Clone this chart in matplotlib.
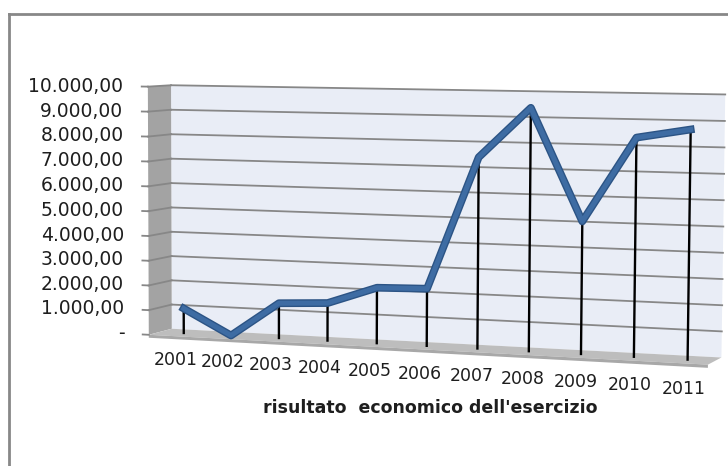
import numpy as np
import matplotlib
matplotlib.use('Agg')
import matplotlib.pyplot as plt
import matplotlib.patheffects as pe
from matplotlib.lines import Line2D
from mpl_toolkits.mplot3d import proj3d
from mpl_toolkits.mplot3d.art3d import Poly3DCollection

# dati
anni = ['2001', '2002', '2003', '2004', '2005', '2006',
        '2007', '2008', '2009', '2010', '2011']
risultato = [1000, 0, 1400, 1500, 2200, 2250, 7450, 9400, 5100, 8350, 8700]
zticks = [0, 1000, 2000, 3000, 4000, 5000, 6000, 7000, 8000, 9000, 10000]
zlabels = ['-', '1.000,00', '2.000,00', '3.000,00', '4.000,00', '5.000,00',
           '6.000,00', '7.000,00', '8.000,00', '9.000,00', '10.000,00']
titolo = "risultato  economico dell'esercizio"

W, H = 728, 466
fig = plt.figure(figsize=(W / 100, H / 100), dpi=100)
# vista 3D in prospettiva simile al grafico di Excel
ax = fig.add_axes([0.1439, -0.1615, 0.8630, 1.3482], projection='3d')
ax.set_axis_off()
ax.computed_zorder = False
ax.view_init(elev=4.674, azim=-69.943, roll=-0.293)
ax.set_proj_type('persp', focal_length=0.759)
ax.set_box_aspect((1.0, 0.092, 0.433))

n = len(anni)
xs = np.arange(1, n + 1)
x0, x1 = 0.5, n + 0.5
y0, y1, ym = 0.0, 1.0, 0.5
zt = zticks[-1]
ax.set_xlim(x0, x1)
ax.set_ylim(y0, y1)
ax.set_zlim(0, zt)

# pareti e pavimento
back = [[(x0, y1, 0), (x1, y1, 0), (x1, y1, zt), (x0, y1, zt)]]
side = [[(x0, y0, 0), (x0, y1, 0), (x0, y1, zt), (x0, y0, zt)]]
floor = [[(x0, y0, 0), (x1, y0, 0), (x1, y1, 0), (x0, y1, 0)]]
floor_edge = [[(x0, y0, 0), (x1, y0, 0), (x1, y0, -120), (x0, y0, -120)]]
for poly, col in [(back, '#E9EDF6'), (side, '#A3A3A3'),
                  (floor, '#BDBDBD'), (floor_edge, '#A8A8A8')]:
    pc = Poly3DCollection(poly, facecolor=col, edgecolor='none')
    pc.set_zorder(1)
    ax.add_collection3d(pc)

# griglia e tacche
for v in zticks:
    if v > 0:
        ax.plot([x0, x1], [y1, y1], [v, v], color='#878787', lw=1.3, zorder=2)
        ax.plot([x0, x0], [y0, y1], [v, v], color='#878787', lw=1.3, zorder=2)
    ax.plot([x0 - 0.13, x0], [y0, y0], [v, v], color='#878787', lw=1.3, zorder=2)

# linee di proiezione
for x, v in zip(xs, risultato):
    ax.plot([x, x], [ym, ym], [0, v], color='black', lw=1.7, zorder=3)

ax.plot(xs, [ym] * n, risultato, color='#3E6CA3', lw=3.6, zorder=4,
        path_effects=[pe.Stroke(linewidth=5.6, foreground='#2C5485'), pe.Normal()])

# etichette: punto 3D proiettato sulla figura
fig.canvas.draw()


def to_fig(x, y, z):
    u, v, _ = proj3d.proj_transform(x, y, z, ax.get_proj())
    return fig.transFigure.inverted().transform(ax.transData.transform((u, v)))


for x, a in zip(xs, anni):
    fx, fy = to_fig(x + 0.06, y0, -950)
    fig.text(fx, fy, a, ha='center', va='center', fontsize=12.5, color='#1E1E1E')
for v, lab in zip(zticks, zlabels):
    fx, fy = to_fig(x0 - 0.52, y0, v)
    fig.text(fx, fy, lab, ha='right', va='center', fontsize=13.5, color='#1E1E1E')

fig.text(430 / W, 1 - 408 / H, titolo, ha='center', va='center',
         fontsize=12.5, fontweight='bold', color='#1E1E1E')

# cornice
fig.add_artist(Line2D([9 / W, 9 / W], [0, 1 - 14 / H], color='#888888', lw=2))
fig.add_artist(Line2D([9 / W, 1], [1 - 14 / H, 1 - 14 / H], color='#888888', lw=2))

fig.savefig('out.png', dpi=100)
